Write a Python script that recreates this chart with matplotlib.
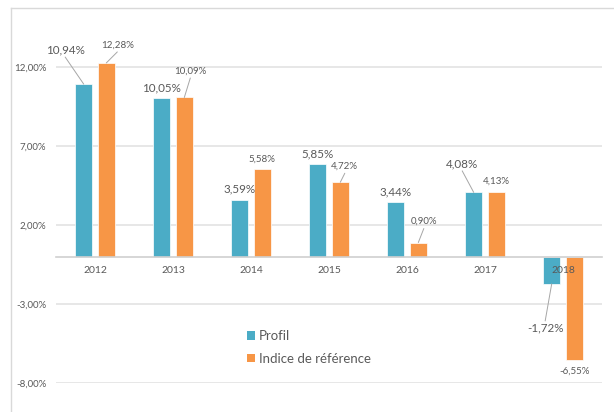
import matplotlib
matplotlib.use("Agg")
import matplotlib.pyplot as plt
from matplotlib.lines import Line2D
from matplotlib.patches import Patch
import numpy as np

plt.rcParams['font.family'] = ['Lato', 'DejaVu Sans']

# data
years = ['2012', '2013', '2014', '2015', '2016', '2017', '2018']
profil = [10.94, 10.05, 3.59, 5.85, 3.44, 4.08, -1.72]
indice = [12.28, 10.09, 5.58, 4.72, 0.90, 4.13, -6.55]
series_names = ['Profil', 'Indice de référence']
y_ticks = [-8, -3, 2, 7, 12]

# label offsets in pixels (dx, dy) relative to bar end
profil_offsets = [(-18.5, 34), (0, 10), (0, 11), (0, 10.5), (0, 11), (-11.5, 28.5), (-6.5, -44)]
indice_offsets = [(11, 18), (6, 26.5), (0, 9), (4.5, 16), (5.5, 21), (0, 10), (0, -11.5)]

TEAL = '#4BACC6'
ORANGE = '#F79646'
TXT = '#595959'

fig = plt.figure(figsize=(6.14, 4.12), dpi=100)
W, H = 614, 412
ax = fig.add_axes([56 / W, (H - 383) / H, 546 / W, 363 / H])

x = np.arange(len(years))
bw = 0.225
off = 0.145
ax.bar(x - off, profil, bw, color=TEAL, edgecolor='white', linewidth=0.5, zorder=2)
ax.bar(x + off, indice, bw, color=ORANGE, edgecolor='white', linewidth=0.5, zorder=2)

ax.set_xlim(-0.5, len(years) - 0.5)
ax.set_ylim(-8, 15)
ax.set_yticks(y_ticks)
ax.set_yticklabels([f"{v:.2f}%".replace('.', ',') for v in y_ticks])
ax.yaxis.grid(True, color='#E3E3E3', linewidth=1.2)
ax.set_axisbelow(True)
ax.tick_params(axis='y', length=0, pad=7, labelsize=7, labelcolor=TXT)

for s in ['left', 'right', 'top']:
    ax.spines[s].set_visible(False)
ax.spines['bottom'].set_position(('data', 0))
ax.spines['bottom'].set_color('#D0D0D0')
ax.spines['bottom'].set_linewidth(1.2)
ax.spines['bottom'].set_zorder(3)
ax.set_xticks(x)
ax.set_xticklabels(years)
ax.tick_params(axis='x', length=0, pad=7, labelsize=7.5, labelcolor=TXT)
ax.xaxis.set_zorder(5)


def fmt(v):
    return f"{v:.2f}%".replace('.', ',')


def label(xs, vals, offsets, size):
    for xi, v, (dx, dy) in zip(xs, vals, offsets):
        ax.annotate(fmt(v), xy=(xi, v), xytext=(dx, dy), textcoords='offset pixels',
                    ha='center', va='center', fontsize=size, color=TXT, zorder=6)
        if np.hypot(dx, dy) > 14:
            # leader line from label edge to bar end
            ax.annotate('', xy=(xi, v), xytext=(dx, dy - np.sign(dy) * 7),
                        textcoords='offset pixels',
                        arrowprops=dict(arrowstyle='-', color='#A6A6A6', lw=0.7,
                                        shrinkA=0, shrinkB=0), zorder=6)


label(x - off, profil, profil_offsets, 8.4)
label(x + off, indice, indice_offsets, 7)

handles = [Patch(facecolor=TEAL), Patch(facecolor=ORANGE)]
fig.legend(handles, series_names, loc='upper left',
           bbox_to_anchor=(247 / W, 1 - 330 / H), frameon=False,
           fontsize=9.5, handlelength=0.6, handleheight=0.6, handletextpad=0.3,
           labelspacing=0.8, borderpad=0, borderaxespad=0, labelcolor=TXT)

# outer chart frame (top and left edges)
fig.add_artist(Line2D([11 / W, 1], [1 - 8 / H, 1 - 8 / H], color='#D9D9D9', lw=1, transform=fig.transFigure))
fig.add_artist(Line2D([11 / W, 11 / W], [0, 1 - 8 / H], color='#D9D9D9', lw=1, transform=fig.transFigure))

fig.savefig('out.png', dpi=100)
